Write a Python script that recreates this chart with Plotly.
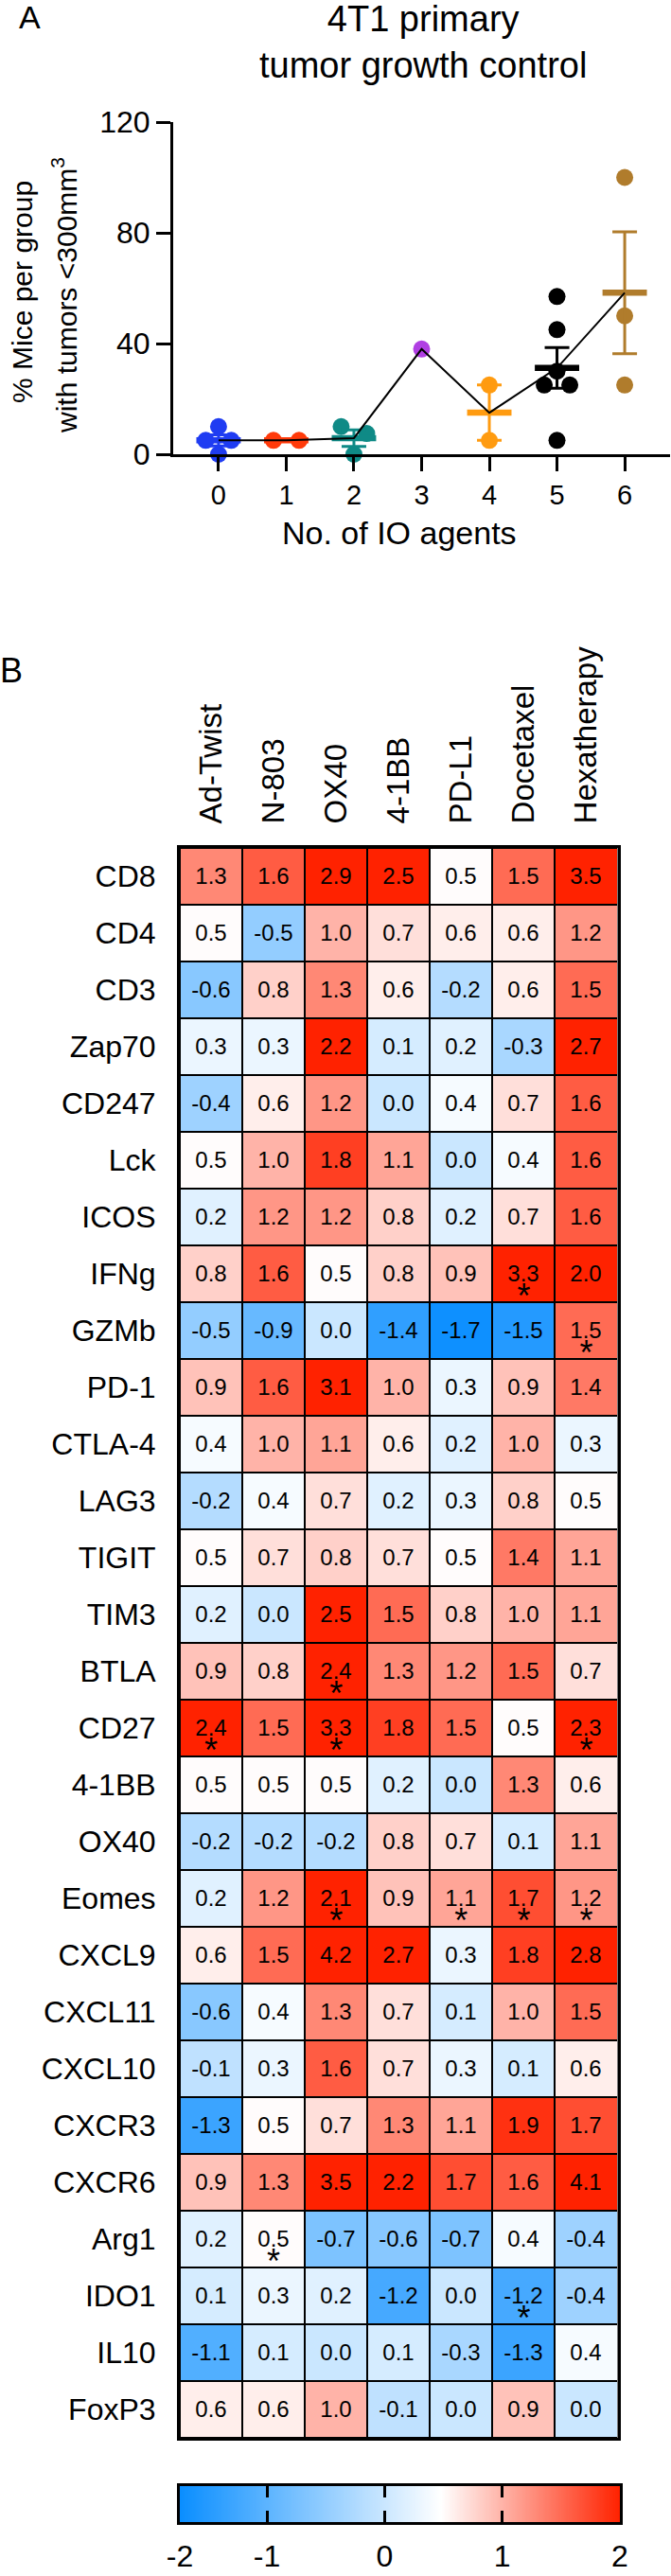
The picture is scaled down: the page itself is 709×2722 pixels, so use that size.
import numpy as np
import plotly.graph_objects as go

# ------------------------------------------------------------------ data
# Panel A: % mice per group with tumours < 300 mm^3, by number of IO agents
io_agents = [0, 1, 2, 3, 4, 5, 6]
mice_pct = [
    [10, 5, 5, 0],
    [5, 5],
    [10, 7.5, 0],
    [38],
    [25, 5],
    [57, 45, 30, 25, 25, 5],
    [100, 50, 25],
]
y_ticks_a = [0, 40, 80, 120]

# Panel B: heat map of log2 fold changes
treatments = ["Ad-Twist", "N-803", "OX40", "4-1BB", "PD-L1", "Docetaxel", "Hexatherapy"]
genes = ["CD8", "CD4", "CD3", "Zap70", "CD247", "Lck", "ICOS", "IFNg", "GZMb", "PD-1",
         "CTLA-4", "LAG3", "TIGIT", "TIM3", "BTLA", "CD27", "4-1BB", "OX40", "Eomes",
         "CXCL9", "CXCL11", "CXCL10", "CXCR3", "CXCR6", "Arg1", "IDO1", "IL10", "FoxP3"]
fold_change = [
    [1.3, 1.6, 2.9, 2.5, 0.5, 1.5, 3.5],
    [0.5, -0.5, 1.0, 0.7, 0.6, 0.6, 1.2],
    [-0.6, 0.8, 1.3, 0.6, -0.2, 0.6, 1.5],
    [0.3, 0.3, 2.2, 0.1, 0.2, -0.3, 2.7],
    [-0.4, 0.6, 1.2, 0.0, 0.4, 0.7, 1.6],
    [0.5, 1.0, 1.8, 1.1, 0.0, 0.4, 1.6],
    [0.2, 1.2, 1.2, 0.8, 0.2, 0.7, 1.6],
    [0.8, 1.6, 0.5, 0.8, 0.9, 3.3, 2.0],
    [-0.5, -0.9, 0.0, -1.4, -1.7, -1.5, 1.5],
    [0.9, 1.6, 3.1, 1.0, 0.3, 0.9, 1.4],
    [0.4, 1.0, 1.1, 0.6, 0.2, 1.0, 0.3],
    [-0.2, 0.4, 0.7, 0.2, 0.3, 0.8, 0.5],
    [0.5, 0.7, 0.8, 0.7, 0.5, 1.4, 1.1],
    [0.2, 0.0, 2.5, 1.5, 0.8, 1.0, 1.1],
    [0.9, 0.8, 2.4, 1.3, 1.2, 1.5, 0.7],
    [2.4, 1.5, 3.3, 1.8, 1.5, 0.5, 2.3],
    [0.5, 0.5, 0.5, 0.2, 0.0, 1.3, 0.6],
    [-0.2, -0.2, -0.2, 0.8, 0.7, 0.1, 1.1],
    [0.2, 1.2, 2.1, 0.9, 1.1, 1.7, 1.2],
    [0.6, 1.5, 4.2, 2.7, 0.3, 1.8, 2.8],
    [-0.6, 0.4, 1.3, 0.7, 0.1, 1.0, 1.5],
    [-0.1, 0.3, 1.6, 0.7, 0.3, 0.1, 0.6],
    [-1.3, 0.5, 0.7, 1.3, 1.1, 1.9, 1.7],
    [0.9, 1.3, 3.5, 2.2, 1.7, 1.6, 4.1],
    [0.2, 0.5, -0.7, -0.6, -0.7, 0.4, -0.4],
    [0.1, 0.3, 0.2, -1.2, 0.0, -1.2, -0.4],
    [-1.1, 0.1, 0.0, 0.1, -0.3, -1.3, 0.4],
    [0.6, 0.6, 1.0, -0.1, 0.0, 0.9, 0.0],
]
significant = [("IFNg", "Docetaxel"), ("GZMb", "Hexatherapy"), ("BTLA", "OX40"),
               ("CD27", "Ad-Twist"), ("CD27", "OX40"), ("CD27", "Hexatherapy"),
               ("Eomes", "OX40"), ("Eomes", "PD-L1"), ("Eomes", "Docetaxel"),
               ("Eomes", "Hexatherapy"), ("Arg1", "N-803"), ("IDO1", "Docetaxel")]
colorbar_labels = ["-2", "-1", "0", "1", "2"]
colorbar_values = [-1, 0, 1, 2]

# ------------------------------------------------------------------ style / layout
W, H = 709, 2722
FONT = "Liberation Sans, Arial, Helvetica, sans-serif"
group_colors = ["#1f3cf2", "#ff3a0a", "#0f8a86", "#b03fe3", "#ff9b10", "#000000", "#b07c2c"]

A_L, A_R, A_T, A_B = 183, 708, 129, 480        # panel A plot area (px)
X_RANGE = [-0.67, 6.67]
HM_L, HM_R, HM_T, HM_B = 190, 652.5, 896, 2576  # heat map area (px)
CB_L, CB_R, CB_T, CB_B = 190, 655, 2627, 2665   # colour bar (px)
CB_MIN, CB_MAX, WHITE_AT = -1.74, 2.0, 0.48

DOT = 18          # dot diameter px
SPREAD = 27       # horizontal spread unit px


def fx(px):
    return px / W


def fy(py):
    return 1 - py / H


px_per_x = (A_R - A_L) / (X_RANGE[1] - X_RANGE[0])
px_per_y = (A_B - A_T) / (y_ticks_a[-1] - y_ticks_a[0])


def swarm(values):
    """Prism-like spreading of overlapping dots (offsets in x data units)."""
    order = sorted(range(len(values)), key=lambda i: -values[i])
    cands = [0, 0.5, -0.5, 1, -1, 1.5, -1.5]
    placed = {}
    for i in order:
        yv = values[i] * px_per_y
        for c in cands:
            xo = c * SPREAD
            if all((xo - px) ** 2 + (yv - py) ** 2 >= (DOT - 1.5) ** 2 for px, py in placed.values()):
                placed[i] = (xo, yv)
                break
    # recentre vertically-overlapping clusters
    idx = sorted(range(len(values)), key=lambda i: values[i])
    clusters, cur = [], [idx[0]]
    for a, b in zip(idx, idx[1:]):
        if (values[b] - values[a]) * px_per_y < DOT:
            cur.append(b)
        else:
            clusters.append(cur)
            cur = [b]
    clusters.append(cur)
    off = {}
    for cl in clusters:
        xs = [placed[i][0] for i in cl]
        shift = (min(xs) + max(xs)) / 2
        for i in cl:
            off[i] = (placed[i][0] - shift) / px_per_x
    return [off[i] for i in range(len(values))]


fig = go.Figure()

# ---------------- panel A
means, sems = [], []
for g, vals in zip(io_agents, mice_pct):
    v = np.array(vals, float)
    means.append(float(v.mean()))
    sems.append(float(v.std(ddof=1) / np.sqrt(len(v))) if len(v) > 1 else 0.0)

for k, (g, vals) in enumerate(zip(io_agents, mice_pct)):
    offs = swarm(vals)
    fig.add_trace(go.Scatter(
        x=[g + o for o in offs], y=vals, mode="markers",
        marker=dict(size=DOT, color=group_colors[k], line=dict(width=0)),
        cliponaxis=False, showlegend=False, xaxis="x", yaxis="y"))
    if len(vals) > 1:
        fig.add_trace(go.Scatter(
            x=[g], y=[means[k]], mode="markers",
            marker=dict(symbol="line-ew", size=33.5, color=group_colors[k],
                        line=dict(width=6.5, color=group_colors[k])),
            error_y=dict(type="data", array=[sems[k]], visible=bool(sems[k] > 0),
                         color=group_colors[k], thickness=3, width=13),
            cliponaxis=False, showlegend=False, xaxis="x", yaxis="y"))

fig.add_trace(go.Scatter(x=io_agents, y=means, mode="lines",
                         line=dict(color="black", width=2), cliponaxis=False,
                         showlegend=False, xaxis="x", yaxis="y"))

# ---------------- panel B heat map
z = np.array(fold_change)
cscale = [[0.0, "#0a8eff"], [(WHITE_AT - CB_MIN) / (CB_MAX - CB_MIN), "#ffffff"], [1.0, "#ff2200"]]
fig.add_trace(go.Heatmap(
    z=z, x=list(range(len(treatments))), y=list(range(len(genes))),
    colorscale=cscale, zmin=CB_MIN, zmax=CB_MAX, showscale=False,
    xgap=2, ygap=2, texttemplate="%{z:.1f}",
    textfont=dict(size=24, color="black", family=FONT),
    xaxis="x2", yaxis="y2", hoverinfo="skip"))

sig_x = [treatments.index(t) for g, t in significant]
sig_y = [genes.index(g) + 0.45 for g, t in significant]
fig.add_trace(go.Scatter(
    x=sig_x, y=sig_y, mode="text", text=["*"] * len(significant),
    textposition="middle center", textfont=dict(size=36, color="black", family=FONT),
    showlegend=False, xaxis="x2", yaxis="y2", hoverinfo="skip", cliponaxis=False))

# ---------------- colour bar strip
grad = np.linspace(CB_MIN, CB_MAX, 400)
fig.add_trace(go.Heatmap(
    z=[grad], x=grad, y=[0], colorscale=cscale, zmin=CB_MIN, zmax=CB_MAX,
    showscale=False, xaxis="x3", yaxis="y3", hoverinfo="skip"))

axis_common = dict(showgrid=False, zeroline=False, showline=True, linecolor="black",
                   tickcolor="black", fixedrange=True, automargin=False)
hm_axis = dict(showgrid=False, zeroline=False, showline=True, linecolor="black",
               fixedrange=True, automargin=False, mirror=True, linewidth=3,
               ticks="outside", ticklen=16, tickcolor="rgba(0,0,0,0)")

fig.update_layout(
    width=W, height=H, margin=dict(l=0, r=0, t=0, b=0, autoexpand=False),
    paper_bgcolor="white", plot_bgcolor="white", showlegend=False,
    font=dict(family=FONT, color="black"),
    xaxis=dict(domain=[fx(A_L), fx(A_R)], range=X_RANGE, anchor="y",
               tickvals=io_agents, ticks="outside", ticklen=15, tickwidth=3, linewidth=3,
               tickfont=dict(size=29), **axis_common),
    yaxis=dict(domain=[fy(A_B), fy(A_T)], range=[y_ticks_a[0], y_ticks_a[-1]], anchor="x",
               tickvals=y_ticks_a, ticks="outside", ticklen=15, tickwidth=3, linewidth=3,
               tickfont=dict(size=32), **axis_common),
    xaxis2=dict(domain=[fx(HM_L), fx(HM_R)], range=[-0.5, len(treatments) - 0.5], anchor="y2",
                side="top", tickvals=list(range(len(treatments))), ticktext=treatments,
                tickangle=-90, tickfont=dict(size=33), **hm_axis),
    yaxis2=dict(domain=[fy(HM_B), fy(HM_T)], range=[len(genes) - 0.5, -0.5], anchor="x2",
                tickvals=list(range(len(genes))), ticktext=genes,
                tickfont=dict(size=32), **hm_axis),
    xaxis3=dict(domain=[fx(CB_L), fx(CB_R)], range=[CB_MIN, CB_MAX], anchor="y3",
                tickvals=[CB_MIN] + colorbar_values, ticktext=colorbar_labels,
                ticks="inside", ticklen=12, tickwidth=3, mirror="ticks", linewidth=3,
                ticklabelstandoff=6, tickfont=dict(size=32), **axis_common),
    yaxis3=dict(domain=[fy(CB_B), fy(CB_T)], range=[-0.5, 0.5], anchor="x3",
                showticklabels=False, ticks="", mirror=True, linewidth=3, **axis_common),
    shapes=[dict(type="rect", xref="x2 domain", yref="y2 domain", x0=0, x1=1, y0=0, y1=1,
                 fillcolor="black", line=dict(width=0), layer="below")],
)

ann = [
    dict(text="A", x=fx(31.5), y=fy(18), font=dict(size=34)),
    dict(text="B", x=fx(12), y=fy(708), font=dict(size=36)),
    dict(text="4T1 primary<br>tumor growth control", x=fx(447), y=fy(45), font=dict(size=38)),
    dict(text="% Mice per group", x=fx(24), y=fy(309), textangle=-90, font=dict(size=30)),
    dict(text="with tumors <300mm<sup>3</sup>", x=fx(68), y=fy(312), textangle=-90, font=dict(size=30)),
    dict(text="No. of IO agents", x=fx(422), y=fy(563), font=dict(size=34)),
]
for a in ann:
    a.update(xref="paper", yref="paper", showarrow=False, xanchor="center", yanchor="middle")
fig.update_layout(annotations=ann)

# remove the browser's default 8px body margin so the figure fills the page exactly
fig.write_html("out.html", config={"displayModeBar": False},
               post_script="document.body.style.margin='0';document.body.style.overflow='hidden';")
